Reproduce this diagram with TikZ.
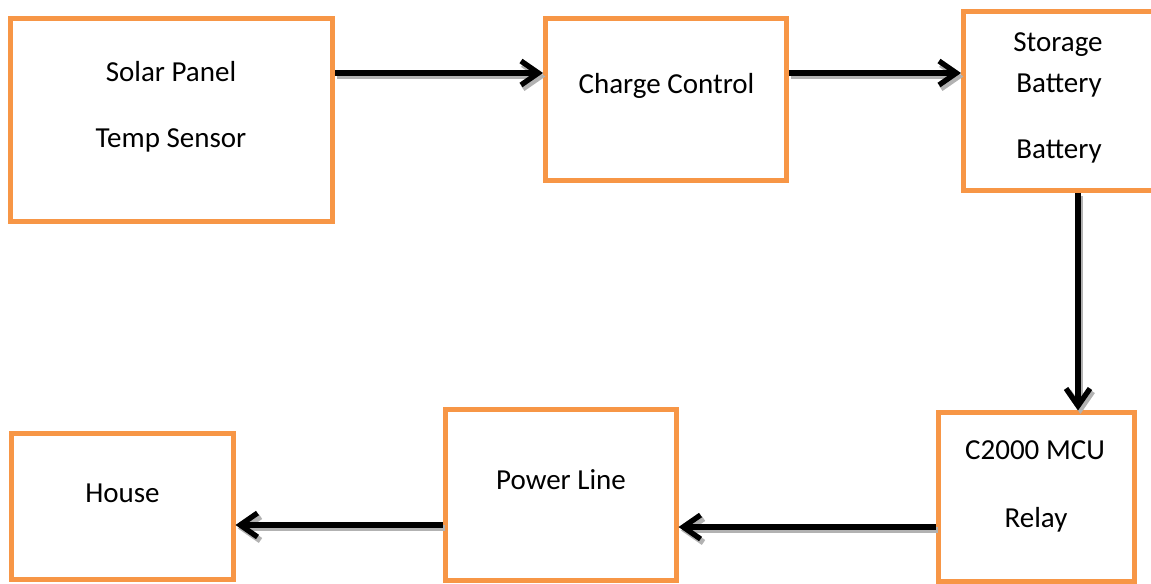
\documentclass[tikz,border=0pt]{standalone}
\usepackage{fontspec}
\setmainfont{Carlito}
\usetikzlibrary{arrows.meta}
\definecolor{boxor}{HTML}{F79646}
\begin{document}
\begin{tikzpicture}[x=0.75pt,y=-0.75pt,
 box/.style={draw=boxor, line width=3.75pt, fill=white, inner sep=0pt},
 lbl/.style={font=\fontsize{21.75}{26}\selectfont, inner sep=0pt, anchor=base},
 tip/.style={-{Straight Barb[length=13pt,width=18pt]}},
 arr/.style={line width=4pt, tip,
   preaction={draw=gray!60, line width=4.5pt, tip, transform canvas={shift={(1.8pt,-2.6pt)}}}}]
\useasboundingbox (0,0) rectangle (1151,583);

\node[box, minimum width=241.5pt, minimum height=152.25pt] (solar) at (171.5,120) {};
\node[box, minimum width=180.75pt, minimum height=121.5pt] (charge) at (666,99.5) {};
\node[box, minimum width=143.6pt, minimum height=134.25pt] (storage) at (1059.25,101) {};
\node[box, minimum width=166.5pt, minimum height=109.5pt] (house) at (122,506.5) {};
\node[box, minimum width=172.9pt, minimum height=128.25pt] (power) at (560.75,495) {};
\node[box, minimum width=147.4pt, minimum height=126.4pt] (mcu) at (1036.25,497.25) {};

\node[lbl] (t1) at (171,81) {Solar Panel};
\node[lbl] (t2) at (171,147) {Temp Sensor};
\node[lbl] (t3) at (666.5,93) {Charge Control};
\node[lbl] (t4) at (1058,51) {Storage};
\node[lbl] (t5) at (1059,92) {Battery};
\node[lbl] (t6) at (1059,158) {Battery};
\node[lbl] (t7) at (1035,459) {C2000 MCU};
\node[lbl] (t8) at (1036,527) {Relay};
\node[lbl] (t9) at (561,489) {Power Line};
\node[lbl] (t10) at (122.5,502) {House};

\draw[arr] (solar.east |- 0,73) -- (charge.west |- 0,73);
\draw[arr] (charge.east |- 0,73) -- (storage.west |- 0,73);
\draw[arr] (storage.south -| 1078,0) -- (mcu.north -| 1078,0);
\draw[arr] (mcu.west |- 0,527) -- (power.east |- 0,527);
\draw[arr] (power.west |- 0,525) -- (house.east |- 0,525);
\end{tikzpicture}
\end{document}
